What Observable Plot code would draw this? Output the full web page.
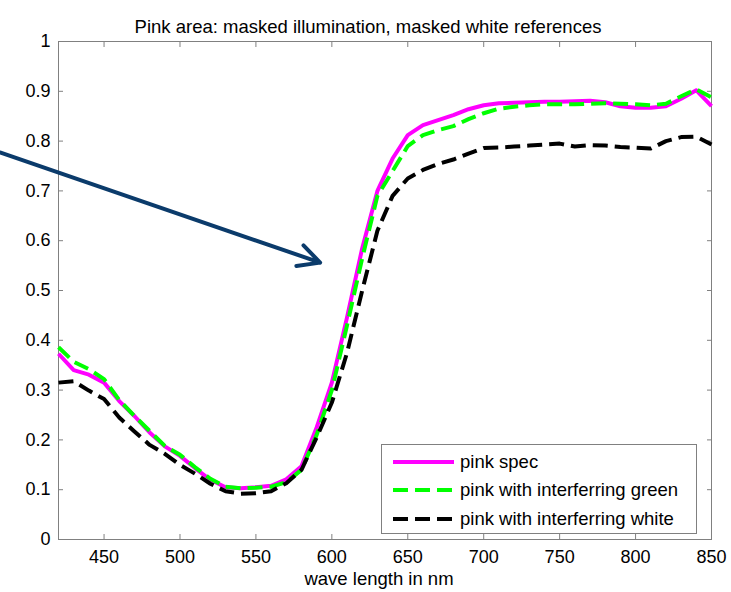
<!DOCTYPE html>
<html><head><meta charset="utf-8">
<script src="https://cdn.jsdelivr.net/npm/d3@7"></script>
<script src="https://cdn.jsdelivr.net/npm/@observablehq/plot@0.6"></script>
<style>
body{margin:0;background:#fff;}
#wrap{position:relative;width:731px;height:592px;font-family:"Liberation Sans",Arial,sans-serif;}
#legend{position:absolute;left:381px;top:444px;width:316px;height:90px;border:1px solid #808080;background:#fff;box-sizing:border-box;}
.row{position:absolute;left:11px;height:20px;display:flex;align-items:center;font-size:18.5px;color:#000;white-space:nowrap;}
.row svg{margin-right:6px;}
</style>
</head><body>
<div id="wrap"><div id="chart"></div><div id="legend"></div></div>
<script>
const titleText = "Pink area: masked illumination, masked white references";
const xLabel = "wave length in nm";
const wavelengths = [420,430,440,450,460,470,480,490,500,510,520,530,540,550,560,570,580,590,600,610,620,630,640,650,660,670,680,690,700,710,720,730,740,750,760,770,780,790,800,810,820,830,840,850];
const pinkSpec = [0.373,0.340,0.331,0.315,0.278,0.248,0.215,0.187,0.168,0.143,0.120,0.105,0.103,0.105,0.108,0.121,0.147,0.225,0.315,0.446,0.585,0.700,0.765,0.812,0.832,0.842,0.852,0.864,0.872,0.876,0.877,0.878,0.879,0.879,0.880,0.881,0.878,0.870,0.867,0.867,0.870,0.885,0.902,0.870];
const pinkGreen = [0.386,0.357,0.342,0.322,0.280,0.248,0.218,0.188,0.170,0.145,0.122,0.106,0.103,0.104,0.106,0.115,0.140,0.210,0.300,0.430,0.565,0.690,0.740,0.790,0.812,0.822,0.830,0.844,0.856,0.865,0.869,0.872,0.874,0.874,0.874,0.875,0.876,0.875,0.874,0.872,0.875,0.890,0.904,0.888];
const pinkWhite = [0.315,0.318,0.299,0.282,0.245,0.217,0.190,0.172,0.150,0.132,0.112,0.097,0.092,0.093,0.097,0.113,0.140,0.205,0.275,0.375,0.500,0.620,0.690,0.725,0.742,0.754,0.763,0.775,0.786,0.787,0.789,0.791,0.793,0.795,0.789,0.792,0.791,0.788,0.787,0.785,0.800,0.808,0.809,0.793];
const seriesNames = ["pink spec","pink with interferring green","pink with interferring white"];
const seriesColors = ["#ff00ff","#00ff00","#000000"];
const seriesDash = [null,"15,7","15,7"];
const xTicks = [450,500,550,600,650,700,750,800,850];
const yTicks = [0,0.1,0.2,0.3,0.4,0.5,0.6,0.7,0.8,0.9,1];
const yTickLabels = ["0","0.1","0.2","0.3","0.4","0.5","0.6","0.7","0.8","0.9","1"];
const arrowFrom = [381.9, 0.777];
const arrowTo = [592.3, 0.556];

const seriesValues = [pinkSpec, pinkGreen, pinkWhite];
const lineMarks = seriesValues.map((vals, s) =>
  Plot.line(wavelengths.map((w, i) => ({w, v: vals[i]})), {
    x: "w", y: "v", stroke: seriesColors[s], strokeWidth: 4,
    strokeDasharray: seriesDash[s] || undefined, strokeLinejoin: "round", strokeLinecap: "butt"
  })
);
const gray = "#808080";
const chart = Plot.plot({
  width: 731, height: 592,
  marginTop: 41, marginRight: 20, marginBottom: 53, marginLeft: 58,
  style: {fontFamily: '"Liberation Sans", Arial, sans-serif', fontSize: "18px", background: "white", color: "black", overflow: "visible"},
  x: {domain: [420, 850]},
  y: {domain: [0, 1]},
  marks: [
    Plot.frame({stroke: gray}),
    Plot.axisX(xTicks, {anchor: "bottom", tickSize: 0, tickPadding: 11, fill: "black", label: null, fontSize: 18}),
    Plot.axisX(xTicks, {anchor: "bottom", tickSize: -5, stroke: gray, tickFormat: () => "", label: null}),
    Plot.axisX(xTicks, {anchor: "top", tickSize: -5, stroke: gray, tickFormat: () => "", label: null}),
    Plot.axisY(yTicks, {anchor: "left", tickSize: 0, tickPadding: 8, fill: "black", label: null, fontSize: 18, tickFormat: (d) => yTickLabels[yTicks.indexOf(d)]}),
    Plot.axisY(yTicks, {anchor: "left", tickSize: -5, stroke: gray, tickFormat: () => "", label: null}),
    Plot.axisY(yTicks, {anchor: "right", tickSize: -5, stroke: gray, tickFormat: () => "", label: null}),
    ...lineMarks,
    Plot.arrow([{x1: arrowFrom[0], y1: arrowFrom[1], x2: arrowTo[0], y2: arrowTo[1]}], {
      x1: "x1", y1: "y1", x2: "x2", y2: "y2", stroke: "#0b3b6b", strokeWidth: 4, headLength: 9, headAngle: 54, bend: 0
    }),
    Plot.text([titleText], {frameAnchor: "top", dx: -17, dy: -22, fontSize: 18.5, fill: "black", text: d => d}),
    Plot.text([xLabel], {frameAnchor: "bottom", dx: -6, dy: 45, fontSize: 18.5, fill: "black", text: d => d})
  ]
});
document.getElementById("chart").appendChild(chart);

const legend = document.getElementById("legend");
const rowTops = [7, 35, 64];
seriesNames.forEach((name, s) => {
  const row = document.createElement("div");
  row.className = "row";
  row.style.top = rowTops[s] + "px";
  const dash = seriesDash[s] ? ` stroke-dasharray="${seriesDash[s]}"` : "";
  row.innerHTML = `<svg width="61" height="8"><line x1="0" y1="4" x2="61" y2="4" stroke="${seriesColors[s]}" stroke-width="4"${dash}/></svg><span>${name}</span>`;
  legend.appendChild(row);
});
</script>
</body></html>
